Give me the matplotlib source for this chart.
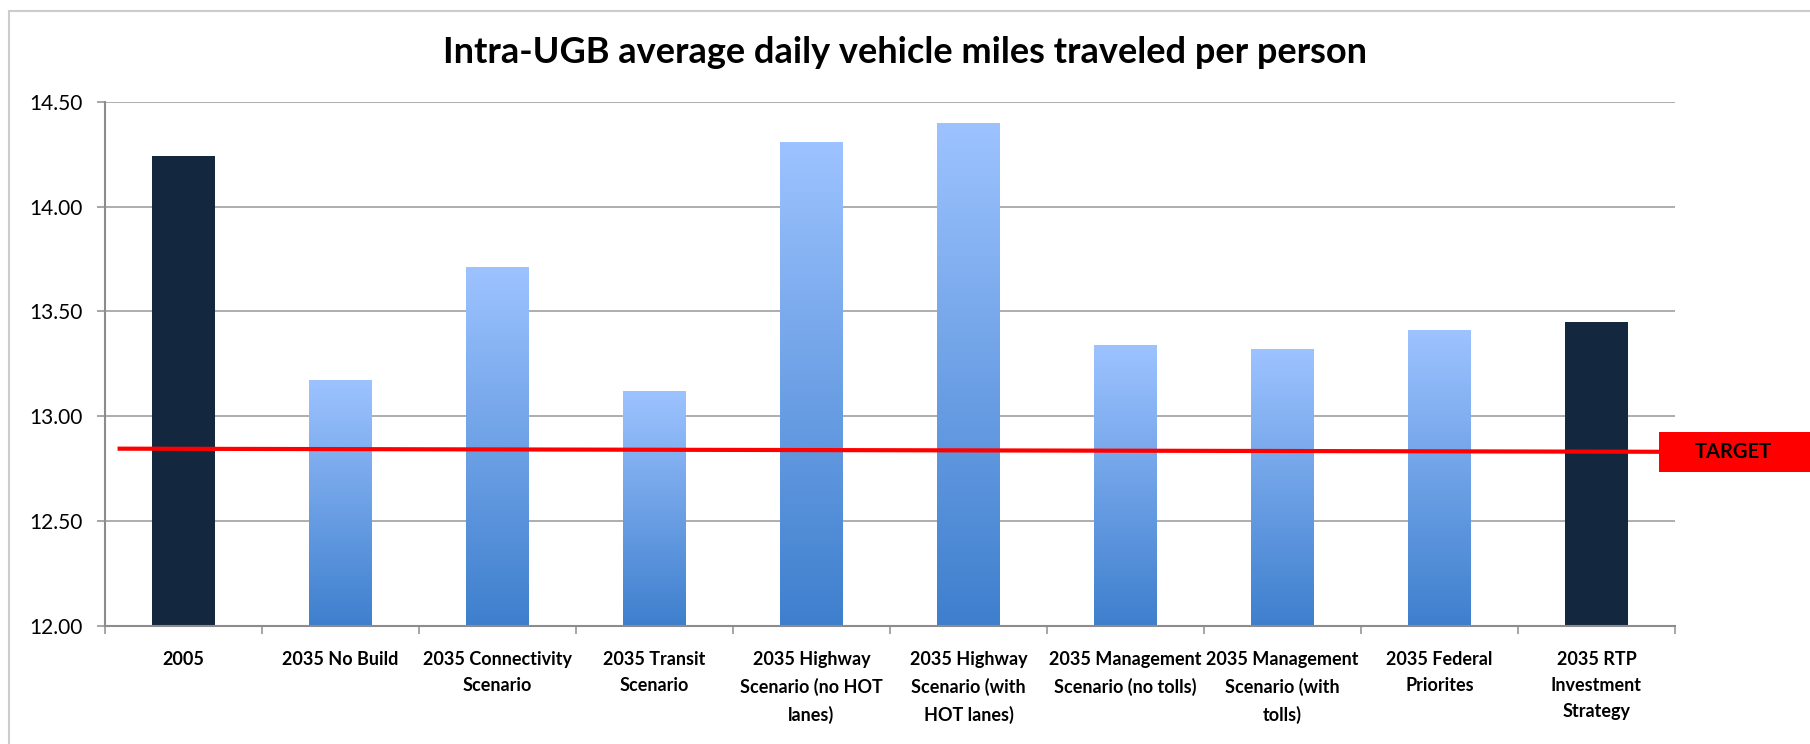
import numpy as np
import matplotlib
matplotlib.use("Agg")
from matplotlib import pyplot as plt
from matplotlib.patches import Rectangle
from matplotlib.colors import LinearSegmentedColormap

plt.rcParams['font.family'] = ['Lato', 'DejaVu Sans']

# data
categories = ["2005", "2035 No Build", "2035 Connectivity\nScenario",
              "2035 Transit\nScenario", "2035 Highway\nScenario (no HOT\nlanes)",
              "2035 Highway\nScenario (with\nHOT lanes)",
              "2035 Management\nScenario (no tolls)",
              "2035 Management\nScenario (with\ntolls)",
              "2035 Federal\nPriorites", "2035 RTP\nInvestment\nStrategy"]
values = [14.24, 13.17, 13.71, 13.12, 14.31, 14.40, 13.34, 13.32, 13.41, 13.45]
is_actual = [True, False, False, False, False, False, False, False, False, True]
target_start = 12.845
target_end = 12.83
y_ticks = [12.0, 12.5, 13.0, 13.5, 14.0, 14.5]

title = "Intra-UGB average daily vehicle miles traveled per person"

navy = "#13273f"
grad = LinearSegmentedColormap.from_list("g", ["#3e7fcd", "#9dc3ff"])
grid_c = "#979797"

fig = plt.figure(figsize=(18.1, 7.44), dpi=100)
ax = fig.add_axes([0.058, 0.159, 0.8674, 0.704])

ymin, ymax = 12.0, 14.5
w = 0.4
x = np.arange(len(values))
g = np.linspace(0, 1, 256).reshape(-1, 1)
for xi, v, act in zip(x, values, is_actual):
    if act:
        ax.bar(xi, v - ymin, bottom=ymin, width=w, color=navy, zorder=2)
    else:
        # vertical gradient fill, dark at the bottom
        ax.imshow(g, cmap=grad, origin='lower', aspect='auto',
                  extent=[xi - w / 2, xi + w / 2, ymin, v], zorder=2,
                  interpolation='bilinear')

ax.set_xlim(-0.5, len(values) - 0.5)
ax.set_ylim(ymin, ymax)

# grid
ax.set_yticks(y_ticks)
ax.set_yticklabels(["%.2f" % t for t in y_ticks])
ax.yaxis.grid(True, color=grid_c, lw=1.1, zorder=0)
ax.set_axisbelow(True)

# target line
ax.plot([-0.42, len(values) - 0.5], [target_start, target_end], color="#ff0000",
        lw=3.0, zorder=4, clip_on=False, solid_capstyle='butt')

# ticks
ax.set_xticks(x)
ax.set_xticklabels(categories, fontsize=13, fontweight='bold', linespacing=1.65)
ax.set_xticks(np.arange(len(values) + 1) - 0.5, minor=True)
ax.tick_params(axis='x', which='major', length=0, pad=18)
ax.tick_params(axis='x', which='minor', length=6, color=grid_c, width=1.2)
ax.tick_params(axis='y', length=6, color=grid_c, width=1.2, labelsize=15, pad=10)

for s in ['top', 'right']:
    ax.spines[s].set_visible(False)
for s in ['left', 'bottom']:
    ax.spines[s].set_color("#8c8c8c")
    ax.spines[s].set_linewidth(1.5)

fig.text(0.5, 0.93, title, ha='center', va='center', fontsize=26, fontweight='bold')

# TARGET box
bx = 0.9166
by = 0.3656
fig.add_artist(Rectangle((bx, by), 0.2, 0.0538, transform=fig.transFigure,
                         facecolor="#ff0000", edgecolor='none', zorder=5))
fig.text(0.9575, by + 0.0269, "TARGET", ha='center', va='center', fontsize=14.5,
         fontweight='bold', zorder=6)

# chart frame
fig.add_artist(Rectangle((9 / 1810, -0.1), 2, 1.085, transform=fig.transFigure,
                         fill=False, edgecolor="#cccccc", lw=1.5))

fig.savefig("out.png", dpi=100)
